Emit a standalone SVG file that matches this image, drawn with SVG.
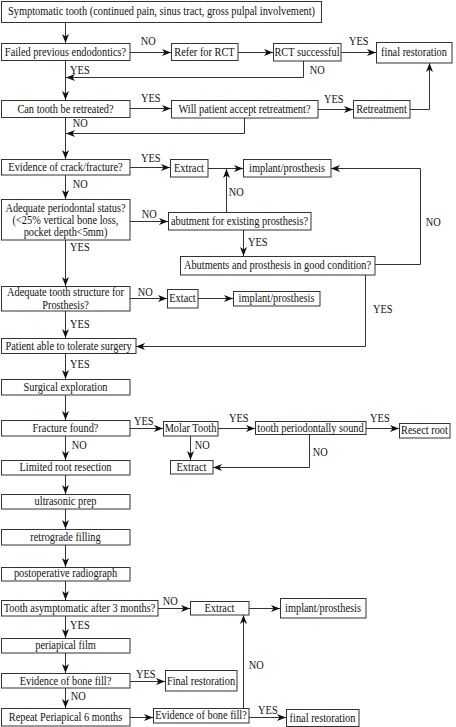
<svg xmlns="http://www.w3.org/2000/svg" width="456" height="727" viewBox="0 0 456 727">
<style>
rect { fill: #fff; stroke: #333; stroke-width: 1; }
text { font-family: "Liberation Serif", "Times New Roman", serif; font-size: 11.5px; fill: #111; text-anchor: middle; transform-box: fill-box; transform-origin: center; transform: scaleX(0.9); }
text.lb { text-anchor: start; }
#connectors path { fill: none; stroke: #333; stroke-width: 1; }
</style>
<defs>
<marker id="arr" markerUnits="userSpaceOnUse" markerWidth="9" markerHeight="7" refX="9" refY="3.5" orient="auto">
<path d="M0,0 L9,3.5 L0,7 L2.5,3.5 z" fill="#111"/>
</marker>
</defs>
<rect x="0" y="0" width="456" height="727" style="fill:#fff;stroke:none"/>

<g id="connectors">
<path d="M65.5,22 V43" marker-end="url(#arr)"/>
<path d="M130,52.5 H171" marker-end="url(#arr)"/>
<path d="M238,52.5 H273" marker-end="url(#arr)"/>
<path d="M341,52.5 H376" marker-end="url(#arr)"/>
<path d="M303.5,61 V77.5 H66" marker-end="url(#arr)"/>
<path d="M65.5,60 V100" marker-end="url(#arr)"/>
<path d="M130,108.5 H171" marker-end="url(#arr)"/>
<path d="M318,109.5 H353" marker-end="url(#arr)"/>
<path d="M410,109.5 H429.5 V63" marker-end="url(#arr)"/>
<path d="M244.5,118 V133.5 H66" marker-end="url(#arr)"/>
<path d="M65.5,117 V159" marker-end="url(#arr)"/>
<path d="M130,167.5 H170" marker-end="url(#arr)"/>
<path d="M208,168.5 H243" marker-end="url(#arr)"/>
<path d="M226.5,212 V169" marker-end="url(#arr)"/>
<path d="M375,264.5 H420.5 V168.5 H331" marker-end="url(#arr)"/>
<path d="M65.5,175 V199" marker-end="url(#arr)"/>
<path d="M130,221.5 H168" marker-end="url(#arr)"/>
<path d="M243.5,230 V256" marker-end="url(#arr)"/>
<path d="M65.5,240 V286" marker-end="url(#arr)"/>
<path d="M130,298.5 H167" marker-end="url(#arr)"/>
<path d="M198,298.5 H233" marker-end="url(#arr)"/>
<path d="M65.5,311 V338" marker-end="url(#arr)"/>
<path d="M365.5,275 V346.5 H136" marker-end="url(#arr)"/>
<path d="M65.5,353 V379" marker-end="url(#arr)"/>
<path d="M65.5,395 V420" marker-end="url(#arr)"/>
<path d="M130,428.5 H163" marker-end="url(#arr)"/>
<path d="M218,428.5 H255" marker-end="url(#arr)"/>
<path d="M366,428.5 H399" marker-end="url(#arr)"/>
<path d="M190.5,436 V460" marker-end="url(#arr)"/>
<path d="M309.5,434 V467.5 H213" marker-end="url(#arr)"/>
<path d="M65.5,436 V460" marker-end="url(#arr)"/>
<path d="M65.5,475 V494" marker-end="url(#arr)"/>
<path d="M65.5,509 V529" marker-end="url(#arr)"/>
<path d="M65.5,545 V567" marker-end="url(#arr)"/>
<path d="M65.5,581 V600" marker-end="url(#arr)"/>
<path d="M158,608.5 H190" marker-end="url(#arr)"/>
<path d="M249,608.5 H280" marker-end="url(#arr)"/>
<path d="M65.5,616 V638" marker-end="url(#arr)"/>
<path d="M65.5,653 V673" marker-end="url(#arr)"/>
<path d="M130,681.5 H165" marker-end="url(#arr)"/>
<path d="M65.5,688 V708" marker-end="url(#arr)"/>
<path d="M130,717.5 H153" marker-end="url(#arr)"/>
<path d="M249,717.5 H286" marker-end="url(#arr)"/>
<path d="M243.5,708 V615" marker-end="url(#arr)"/>
</g>

<g id="labels">
<text class="lb" x="140" y="45.5">NO</text>
<text class="lb" x="348" y="45">YES</text>
<text class="lb" x="309" y="74">NO</text>
<text class="lb" x="69" y="74">YES</text>
<text class="lb" x="140" y="102">YES</text>
<text class="lb" x="323" y="103">YES</text>
<text class="lb" x="72" y="127">NO</text>
<text class="lb" x="140" y="162">YES</text>
<text class="lb" x="72" y="188">NO</text>
<text class="lb" x="228" y="196.5">NO</text>
<text class="lb" x="141" y="218">NO</text>
<text class="lb" x="425" y="226.5">NO</text>
<text class="lb" x="247" y="246">YES</text>
<text class="lb" x="69" y="251">YES</text>
<text class="lb" x="137" y="296">NO</text>
<text class="lb" x="372" y="313">YES</text>
<text class="lb" x="69" y="328">YES</text>
<text class="lb" x="69" y="368">YES</text>
<text class="lb" x="133" y="425.5">YES</text>
<text class="lb" x="228" y="422">YES</text>
<text class="lb" x="369" y="422">YES</text>
<text class="lb" x="71" y="449">NO</text>
<text class="lb" x="194" y="449">NO</text>
<text class="lb" x="312" y="456.5">NO</text>
<text class="lb" x="162" y="605.5">NO</text>
<text class="lb" x="69" y="629">YES</text>
<text class="lb" x="248" y="669">NO</text>
<text class="lb" x="135" y="678">YES</text>
<text class="lb" x="70" y="700">NO</text>
<text class="lb" x="257" y="714">YES</text>
</g>

<g id="n-symptom"><rect x="1.5" y="1.5" width="320" height="21"/><text x="161.5" y="15.5">Symptomatic tooth (continued pain, sinus tract, gross pulpal involvement)</text></g>
<g id="n-failed"><rect x="1.5" y="43.5" width="128.5" height="17"/><text x="65.5" y="56">Failed previous endodontics?</text></g>
<g id="n-refer"><rect x="171.5" y="43.5" width="66.5" height="17"/><text x="204.5" y="56">Refer for RCT</text></g>
<g id="n-rctsucc"><rect x="273.5" y="43.5" width="67.5" height="17.5"/><text x="307" y="56">RCT successful</text></g>
<g id="n-final1"><rect x="376.5" y="42.5" width="75.5" height="20.5"/><text x="414" y="56.5">final restoration</text></g>
<g id="n-retreat-q"><rect x="1.5" y="100.5" width="128.5" height="17"/><text x="65.5" y="113">Can tooth be retreated?</text></g>
<g id="n-accept"><rect x="171.5" y="100.5" width="146.5" height="17.5"/><text x="244.5" y="113">Will patient accept retreatment?</text></g>
<g id="n-retreatment"><rect x="353.5" y="100.5" width="56.5" height="17.5"/><text x="381.5" y="113">Retreatment</text></g>
<g id="n-crack"><rect x="1.5" y="159.5" width="128.5" height="15.5"/><text x="65.5" y="171">Evidence of crack/fracture?</text></g>
<g id="n-extract1"><rect x="170.5" y="159.5" width="37.5" height="17.5"/><text x="189" y="172">Extract</text></g>
<g id="n-implant1"><rect x="243.5" y="159.5" width="87.5" height="17.5"/><text x="287" y="172">implant/prosthesis</text></g>
<g id="n-perio"><rect x="1.5" y="199.5" width="128.5" height="40.5"/><text x="65.5" y="212.5">Adequate periodontal status?</text><text x="65.5" y="224.5">(&lt;25% vertical bone loss,</text><text x="65.5" y="236.5">pocket depth&lt;5mm)</text></g>
<g id="n-abut-q"><rect x="168.5" y="212.5" width="142.5" height="17.5"/><text x="239.5" y="225">abutment for existing prosthesis?</text></g>
<g id="n-abut-cond"><rect x="180.5" y="256.5" width="194.5" height="18.5"/><text x="277.5" y="269.5">Abutments and prosthesis in good condition?</text></g>
<g id="n-structure"><rect x="1.5" y="286.5" width="128.5" height="24.5"/><text x="65.5" y="296">Adequate tooth structure for</text><text x="65.5" y="308.8">Prosthesis?</text></g>
<g id="n-extact"><rect x="167.5" y="289.5" width="30.5" height="18.5"/><text x="182.5" y="302.5">Extact</text></g>
<g id="n-implant2"><rect x="233.5" y="291.5" width="86.5" height="14.5"/><text x="276.5" y="302.5">implant/prosthesis</text></g>
<g id="n-tolerate"><rect x="1.5" y="338.5" width="134.5" height="15"/><text x="68.5" y="350">Patient able to tolerate surgery</text></g>
<g id="n-surgical"><rect x="1.5" y="379.5" width="128.5" height="15.5"/><text x="65.5" y="391">Surgical exploration</text></g>
<g id="n-fracture"><rect x="1.5" y="420.5" width="128.5" height="15.5"/><text x="65.5" y="432">Fracture found?</text></g>
<g id="n-molar"><rect x="163.5" y="421.5" width="54.5" height="14.5"/><text x="190.5" y="432.5">Molar Tooth</text></g>
<g id="n-perio-sound"><rect x="255.5" y="421.5" width="110.5" height="13"/><text x="310.5" y="432">tooth periodontally sound</text></g>
<g id="n-resect"><rect x="399.5" y="423.5" width="50.5" height="14.5"/><text x="424.5" y="434.5">Resect root</text></g>
<g id="n-extract2"><rect x="170.5" y="460.5" width="42.5" height="13.5"/><text x="191.5" y="471">Extract</text></g>
<g id="n-limited"><rect x="1.5" y="460.5" width="128.5" height="14.5"/><text x="65.5" y="471.5">Limited root resection</text></g>
<g id="n-ultra"><rect x="1.5" y="494.5" width="128.5" height="14.5"/><text x="65.5" y="505.5">ultrasonic prep</text></g>
<g id="n-retro"><rect x="1.5" y="529.5" width="128.5" height="15.5"/><text x="65.5" y="541">retrograde filling</text></g>
<g id="n-postop"><rect x="1.5" y="567.5" width="128.5" height="13.5"/><text x="65.5" y="577.5">postoperative radiograph</text></g>
<g id="n-asympt"><rect x="1.5" y="600.5" width="156.5" height="15.5"/><text x="79.5" y="612">Tooth asymptomatic after 3 months?</text></g>
<g id="n-extract3"><rect x="190.5" y="601.5" width="58.5" height="13.5"/><text x="219.5" y="612">Extract</text></g>
<g id="n-implant3"><rect x="280.5" y="598.5" width="85.5" height="19.5"/><text x="323" y="612">implant/prosthesis</text></g>
<g id="n-periapical"><rect x="1.5" y="638.5" width="128.5" height="14.5"/><text x="65.5" y="649.5">periapical film</text></g>
<g id="n-bonefill1"><rect x="1.5" y="673.5" width="128.5" height="14.5"/><text x="65.5" y="685">Evidence of bone fill?</text></g>
<g id="n-final2"><rect x="165.5" y="670.5" width="71.5" height="20.5"/><text x="201" y="685">Final restoration</text></g>
<g id="n-repeat"><rect x="1.5" y="708.5" width="128.5" height="17.5"/><text x="65.5" y="721.5">Repeat Periapical 6 months</text></g>
<g id="n-bonefill2"><rect x="153.5" y="708.5" width="95.5" height="14.5"/><text x="201" y="719.5">Evidence of bone fill?</text></g>
<g id="n-final3"><rect x="286.5" y="709.5" width="72.5" height="17"/><text x="322.5" y="722">final restoration</text></g>
</svg>
